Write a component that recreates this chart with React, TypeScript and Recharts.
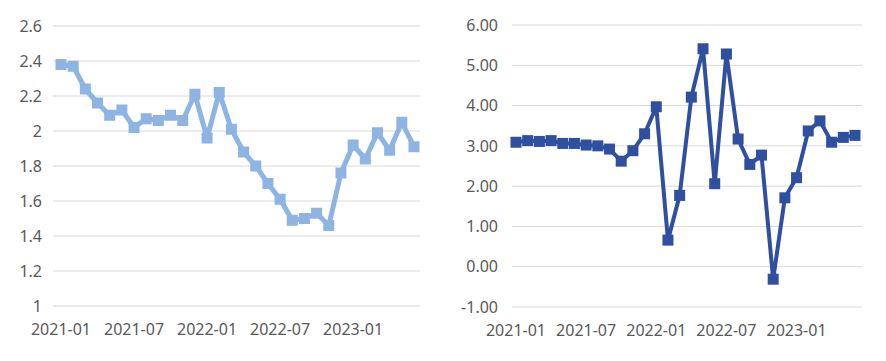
import { LineChart, Line, XAxis, YAxis, CartesianGrid } from "recharts";

const months = [
  "2021-01", "2021-02", "2021-03", "2021-04", "2021-05", "2021-06",
  "2021-07", "2021-08", "2021-09", "2021-10", "2021-11", "2021-12",
  "2022-01", "2022-02", "2022-03", "2022-04", "2022-05", "2022-06",
  "2022-07", "2022-08", "2022-09", "2022-10", "2022-11", "2022-12",
  "2023-01", "2023-02", "2023-03", "2023-04", "2023-05", "2023-06",
];

const leftValues = [
  2.38, 2.37, 2.24, 2.16, 2.09, 2.12, 2.02, 2.07, 2.06, 2.09,
  2.06, 2.21, 1.96, 2.22, 2.01, 1.88, 1.8, 1.7, 1.61, 1.49,
  1.5, 1.53, 1.46, 1.76, 1.92, 1.84, 1.99, 1.89, 2.05, 1.91,
];

const rightValues = [
  3.09, 3.13, 3.11, 3.13, 3.06, 3.06, 3.02, 3.0, 2.92, 2.62,
  2.88, 3.3, 3.97, 0.66, 1.77, 4.21, 5.41, 2.06, 5.28, 3.17,
  2.54, 2.77, -0.31, 1.71, 2.21, 3.37, 3.62, 3.09, 3.21, 3.26,
];

const leftTicks = [1, 1.2, 1.4, 1.6, 1.8, 2, 2.2, 2.4, 2.6];
const rightTicks = [-1, 0, 1, 2, 3, 4, 5, 6];

const leftData = months.map((m, i) => ({ month: m, value: leftValues[i] }));
const rightData = months.map((m, i) => ({ month: m, value: rightValues[i] }));

const tickStyle = { fill: "#595959", fontSize: 16, fontFamily: "Noto Sans" };

const squareDot = (color: string, size: number) => (props: any) => {
  const { cx, cy, index } = props;
  if (cx == null || cy == null) return <g key={index} />;
  return (
    <rect
      key={index}
      x={cx - size / 2}
      y={cy - size / 2}
      width={size}
      height={size}
      fill={color}
    />
  );
};

const App = () => {
  return (
    <div
      style={{
        position: "absolute",
        left: 0,
        top: 0,
        width: 886,
        height: 361,
        background: "#fff",
        display: "flex",
      }}
    >
      <LineChart
        width={440}
        height={361}
        data={leftData}
        margin={{ top: 26, right: 20, left: 0, bottom: 25 }}
      >
        <CartesianGrid vertical={false} stroke="#d9d9d9" />
        <XAxis
          dataKey="month"
          interval={5}
          axisLine={false}
          tickLine={false}
          tick={tickStyle}
          tickMargin={12}
          height={30}
          padding={{ left: 8, right: 6 }}
        />
        <YAxis
          domain={[1, 2.6]}
          ticks={leftTicks}
          axisLine={false}
          tickLine={false}
          tick={tickStyle}
          tickMargin={5}
          width={53}
        />
        <Line
          type="linear"
          dataKey="value"
          stroke="#8db4e2"
          strokeWidth={5}
          strokeLinejoin="round"
          dot={squareDot("#8db4e2", 11)}
          isAnimationActive={false}
        />
      </LineChart>
      <LineChart
        width={446}
        height={361}
        data={rightData}
        margin={{ top: 25, right: 24, left: 0, bottom: 24 }}
      >
        <CartesianGrid vertical={false} stroke="#d9d9d9" />
        <XAxis
          dataKey="month"
          interval={5}
          axisLine={false}
          tickLine={false}
          tick={tickStyle}
          tickMargin={12}
          height={30}
          padding={{ left: 4, right: 7 }}
        />
        <YAxis
          domain={[-1, 6]}
          ticks={rightTicks}
          tickFormatter={(v: number) => v.toFixed(2)}
          axisLine={false}
          tickLine={false}
          tick={tickStyle}
          tickMargin={8}
          width={72}
        />
        <Line
          type="linear"
          dataKey="value"
          stroke="#2f4fa0"
          strokeWidth={4}
          strokeLinejoin="round"
          dot={squareDot("#2f4fa0", 11)}
          isAnimationActive={false}
        />
      </LineChart>
    </div>
  );
};

export default App;
